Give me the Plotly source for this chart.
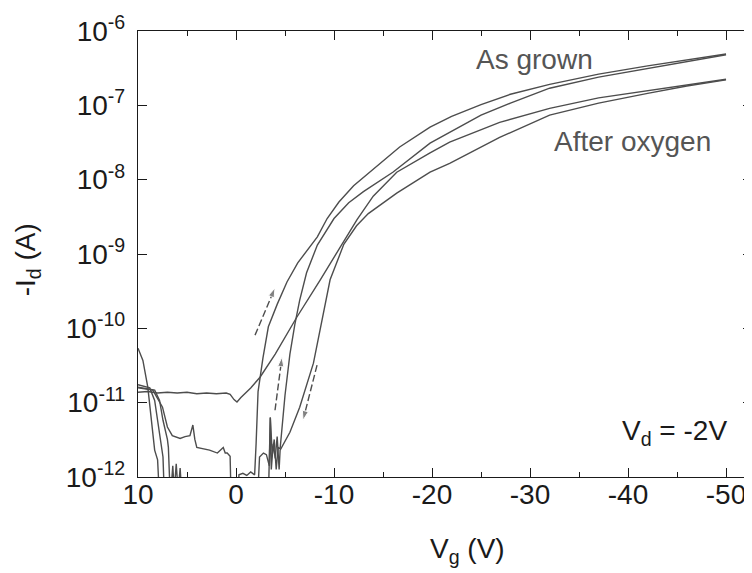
import plotly.graph_objects as go

# ---------------- data ----------------
# gate voltage (V) and drain current -Id (A)
AG_FWD_V = [10, 8.5, 7.5, 7.0, 6.5, 5.7, 5.2, 4.7, 4.4, 4.2, 4.0, 3.3, 2.7, 1.9, 1.3, 1.1, 0.9, 0.6, 0.5,
            -0.2, -0.3, -0.7, -1.1, -1.5, -1.9, -2.05, -2.25, -2.75, -3.3, -4.2, -5.2, -6.3, -7.3, -8.3,
            -9.3, -10.5, -12, -14, -16.7, -19.8, -22, -25, -28, -32, -37, -42, -46, -50]
AG_FWD_I = [1.58e-11, 1.48e-11, 8.7e-12, 4.7e-12, 3.6e-12, 3.3e-12, 3.5e-12, 3.6e-12, 5.0e-12, 3.2e-12,
            2.5e-12, 2.4e-12, 2.3e-12, 2.1e-12, 2.5e-12, 2.1e-12, 2.1e-12, 1.9e-12, 5e-13,
            5e-13, 1.07e-12, 1.12e-12, 1.05e-12, 1.17e-12, 1.07e-12, 2.8e-12, 1.41e-11, 4.0e-11, 1.05e-10,
            2.1e-10, 4.2e-10, 7.6e-10, 1.12e-9, 1.70e-9, 3.0e-9, 5.0e-9, 8.3e-9, 1.38e-8, 2.75e-8,
            5.1e-8, 7.1e-8, 1.02e-7, 1.41e-7, 1.91e-7, 2.63e-7, 3.4e-7, 4.1e-7, 4.9e-7]

AG_REV_V = [10, 8.3, 7.8, 7.45, 7.0, 6.9, 6.7, 6.45, 6.3, 6.1, 5.9, 5.7, 5.5, -3.3, -3.5, -3.7, -3.9,
            -4.1, -4.3, -4.5, -5.0, -5.5, -6.0, -6.5, -7.2, -8.3, -10, -11.5, -13, -16, -19.8, -22,
            -25, -28, -32, -37, -42, -46, -50]
AG_REV_I = [1.62e-11, 1.48e-11, 1.07e-11, 5.8e-12, 3.2e-12, 2.5e-12, 5e-13, 1.41e-12, 6.3e-13, 1.5e-12,
            6.3e-13, 1.32e-12, 5e-13, 5e-13, 6.3e-12, 2.0e-12, 3.2e-12, 1.26e-12, 2.5e-12, 2.4e-12,
            1.26e-11, 4.5e-11, 1.12e-10, 2.4e-10, 5.6e-10, 1.32e-9, 3.0e-9, 4.9e-9, 6.9e-9, 1.26e-8,
            3.1e-8, 4.5e-8, 7.4e-8, 1.07e-7, 1.70e-7, 2.4e-7, 3.16e-7, 3.9e-7, 4.8e-7]

OX_FWD_V = [10, 9, 8, 7, 6, 5, 4, 3, 2, 1, 0.6, 0.2, -0.1, -0.5, -1.5, -2.45, -4, -6.2, -8.6, -10.3,
            -12.35, -14, -16.4, -19.8, -21.8, -26.9, -32, -37, -42, -46, -50]
OX_FWD_I = [1.38e-11, 1.41e-11, 1.35e-11, 1.38e-11, 1.35e-11, 1.38e-11, 1.32e-11, 1.35e-11, 1.32e-11,
            1.35e-11, 1.29e-11, 1.10e-11, 1.02e-11, 1.17e-11, 1.58e-11, 2.2e-11, 4.5e-11, 1.41e-10,
            4.5e-10, 1.05e-9, 2.9e-9, 6.0e-9, 1.26e-8, 2.3e-8, 3.2e-8, 5.9e-8, 9.1e-8, 1.26e-7,
            1.58e-7, 1.9e-7, 2.24e-7]

OX_REV_V = [-50, -46, -42, -37, -32, -26.9, -21.8, -19.8, -16.4, -13.5, -12.3, -11, -9.6, -8.8, -7.9,
            -6.5, -5.5, -4.5, -4.4, -4.2, -4.0, -3.8, -3.6, -3.5, -3.4, -3.1, -2.8, -2.4, -2.2, 7.8,
            8.0, 8.3, 8.6, 9.0, 9.5, 10]
OX_REV_I = [2.2e-7, 1.82e-7, 1.45e-7, 1.07e-7, 7.4e-8, 3.7e-8, 1.66e-8, 1.26e-8, 6.6e-9, 3.5e-9,
            2.4e-9, 1.35e-9, 4.5e-10, 1.26e-10, 3.4e-11, 8.7e-12, 4.0e-12, 2.3e-12, 1.26e-12, 3.5e-12,
            1.78e-12, 2.8e-12, 1.26e-12, 6.3e-12, 1.41e-12, 2.0e-12, 2.1e-12, 1.86e-12, 5e-13, 5e-13,
            1.7e-12, 2.3e-12, 5.8e-12, 1.62e-11, 3.7e-11, 5.4e-11]

TAIL_V = [10, 8.8, 8.3, 8.0, 7.55, 7.45, 7.3]
TAIL_I = [1.74e-11, 1.58e-11, 1.07e-11, 5.8e-12, 2.5e-12, 1.86e-12, 5e-13]

# sweep-direction arrows: (tail V, tail I) -> (head V, head I)
ARROWS = [
    ((-1.94, 8.1e-11), (-3.98, 3.5e-10)),
    ((-3.98, 7.9e-12), (-4.69, 4.1e-11)),
    ((-8.27, 3.2e-11), (-6.84, 5.8e-12)),
]

X_TICKS = [10, 0, -10, -20, -30, -40, -50]
X_TICKLABELS = ["10", "0", "-10", "-20", "-30", "-40", "-50"]
X_MINOR = [5, -5, -15, -25, -35, -45]
Y_TICKS = [1e-12, 1e-11, 1e-10, 1e-9, 1e-8, 1e-7, 1e-6]
Y_TICKLABELS = ["10<sup>-12</sup>", "10<sup>-11</sup>", "10<sup>-10</sup>", "10<sup>-9</sup>",
                "10<sup>-8</sup>", "10<sup>-7</sup>", "10<sup>-6</sup>"]

FONT = "Liberation Sans, Arial, sans-serif"
LINE = "#4d4d4d"
INK = "#1a1a1a"

fig = go.Figure()
for name, xs, ys in [("As grown, forward", AG_FWD_V, AG_FWD_I),
                     ("As grown, reverse", AG_REV_V, AG_REV_I),
                     ("After oxygen, forward", OX_FWD_V, OX_FWD_I),
                     ("After oxygen, reverse", OX_REV_V, OX_REV_I),
                     ("tail", TAIL_V, TAIL_I)]:
    fig.add_trace(go.Scatter(x=xs, y=ys, mode="lines", name=name,
                             line=dict(color=LINE, width=1.4), showlegend=False))

for (tv, ti), (hv, hi) in ARROWS:
    fig.add_trace(go.Scatter(x=[tv, hv], y=[ti, hi], mode="lines+markers", showlegend=False,
                             line=dict(color=LINE, width=1.4, dash="7px,3px"),
                             marker=dict(symbol="arrow", size=[0, 10], color=LINE,
                                         angleref="previous")))

axis_common = dict(showline=True, linecolor=INK, linewidth=1.3, mirror="ticks",
                   ticks="inside", ticklen=9, tickwidth=1.3, tickcolor=INK,
                   showgrid=False, zeroline=False, automargin=False,
                   tickfont=dict(family=FONT, size=28, color=INK))

# the page adds an 8px body margin: the figure is laid out so the plot area lands
# at the reference's position in the window
fig.update_layout(
    width=744, height=565,
    margin=dict(l=130, r=0, t=23, b=96),
    plot_bgcolor="white", paper_bgcolor="white",
    font=dict(family=FONT, color=INK),
    xaxis=dict(range=[10, -52.65], tickmode="array", tickvals=X_TICKS, ticktext=X_TICKLABELS,
               ticklabelstandoff=-8,
               minor=dict(ticks="inside", ticklen=5, tickwidth=1.2, tickcolor=INK,
                          tickmode="array", tickvals=X_MINOR, showgrid=False),
               **axis_common),
    yaxis=dict(type="log", range=[-12, -6], tickmode="array", tickvals=Y_TICKS,
               ticktext=Y_TICKLABELS, ticklabelstandoff=6, **axis_common),
    annotations=[
        dict(x=-30.5, y=-6.39, xref="x", yref="y", text="As grown", showarrow=False,
             xanchor="center", yanchor="middle",
             font=dict(family=FONT, size=28, color="#555555")),
        dict(x=-40.5, y=-7.48, xref="x", yref="y", text="After oxygen", showarrow=False,
             xanchor="center", yanchor="middle",
             font=dict(family=FONT, size=28, color="#555555")),
        dict(x=-44.7, y=-11.4, xref="x", yref="y", text="V<sub>d</sub> = -2V", showarrow=False,
             xanchor="center", yanchor="middle",
             font=dict(family=FONT, size=28, color=INK)),
        dict(x=-0.18, y=0.487, xref="paper", yref="paper", text="-I<sub>d</sub> (A)",
             textangle=-90, showarrow=False, xanchor="center", yanchor="middle",
             font=dict(family=FONT, size=28, color=INK)),
        dict(x=0.536, y=-0.164, xref="paper", yref="paper", text="V<sub>g</sub> (V)",
             showarrow=False, xanchor="center", yanchor="middle",
             font=dict(family=FONT, size=28, color=INK)),
    ],
)

fig.write_html("out.html")
